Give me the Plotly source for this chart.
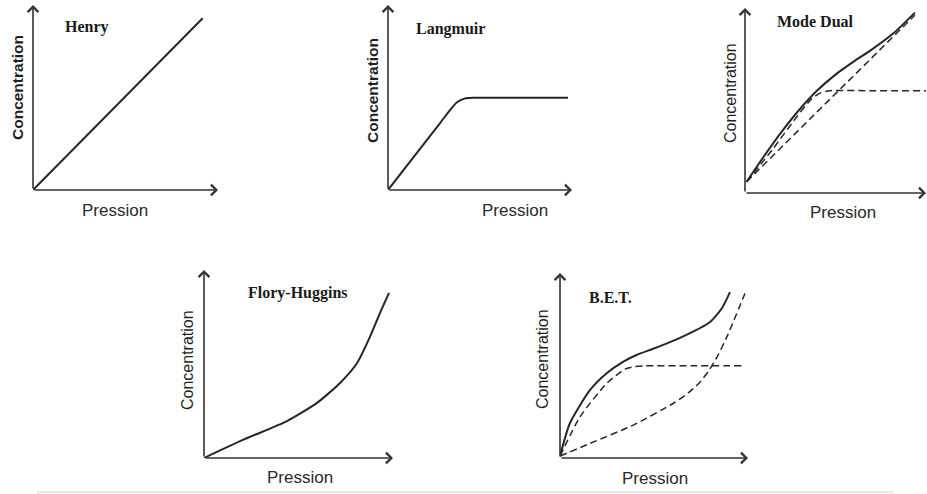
import plotly.graph_objects as go

W, H = 927, 494

# ---------------- data (axis units: 0..100 along each arrow) ----------------
henry_x = [0, 91.7]
henry_y = [0, 92.8]

langmuir_x = [0, 28.3, 33.7, 37.5, 41.5, 46.0, 70.0, 97.8]
langmuir_y = [0, 36.2, 43.2, 47.4, 49.4, 49.8, 49.8, 49.8]

dual_total_x = [0.9, 10.0, 20.0, 30.0, 40.0, 50.0, 60.0, 70.0, 82.0, 93.9]
dual_total_y = [6.1, 19.2, 32.8, 45.0, 55.5, 64.0, 71.0, 77.5, 86.3, 97.5]
dual_henry_x = [0.9, 93.9]
dual_henry_y = [6.1, 96.2]
dual_lang_x = [0.9, 15.7, 28.6, 36.5, 41.5, 47.0, 70.0, 100]
dual_lang_y = [6.1, 24.2, 41.2, 50.6, 54.0, 55.3, 55.3, 55.3]

flory_x = [0, 20.6, 43.9, 59.8, 72.0, 81.0, 87.8, 93.1, 97.9]
flory_y = [0, 9.6, 19.6, 29.3, 39.9, 50.5, 64.4, 77.1, 87.8]

bet_total_x = [0, 5.3, 16.0, 25.0, 33.5, 41.0, 50.0, 63.8, 79.8, 86.2, 90.4]
bet_total_y = [1, 18.9, 36.8, 46.0, 52.0, 55.8, 59.2, 64.9, 73.5, 81.1, 89.7]
bet_lang_x = [0, 10.6, 25.0, 34.5, 40.0, 45.0, 70.0, 96.8]
bet_lang_y = [1, 22.2, 40.5, 48.0, 49.5, 49.8, 49.8, 49.8]
bet_flory_x = [0, 16.0, 39.0, 60.3, 68.0, 74.0, 79.0, 84.0, 89.0, 98.4]
bet_flory_y = [1, 7.9, 17.8, 29.6, 35.0, 40.5, 47.0, 55.5, 66.0, 89.0]

titles = ["Henry", "Langmuir", "Mode Dual", "Flory-Huggins", "B.E.T."]
y_label = "Concentration"
x_label = "Pression"
AX_MAX = 100

# ---------------- layout geometry (pixels) ----------------
# (x origin, x arrow tip, y origin, y arrow tip)
panels = [
    (33, 218, 190, 5),
    (388, 572, 190, 5),
    (745, 926, 193, 8),
    (204, 393, 458, 270),
    (560, 748, 458, 273),
]
title_pos = [(87, 27), (450, 29), (815, 22), (298, 293), (610, 297)]
ylab_pos = [(17, 88), (372, 91), (730, 93), (187, 360), (542, 359)]
xlab_pos = [(115, 210), (515, 210), (843, 212), (300, 477), (655, 478)]
ylab_bold = [True, True, False, False, False]

def px(x):
    return x / W

def py(y):
    return 1 - y / H

INK = "#262626"
fig = go.Figure()

series = [
    [(henry_x, henry_y, "solid")],
    [(langmuir_x, langmuir_y, "solid")],
    [(dual_total_x, dual_total_y, "solid"),
     (dual_henry_x, dual_henry_y, "dash"),
     (dual_lang_x, dual_lang_y, "dash")],
    [(flory_x, flory_y, "solid")],
    [(bet_total_x, bet_total_y, "solid"),
     (bet_lang_x, bet_lang_y, "dash"),
     (bet_flory_x, bet_flory_y, "dash")],
]

annotations = []
layout_axes = {}
for i, (x0, x1, y0, y1) in enumerate(panels):
    n = i + 1
    xa = "xaxis" if n == 1 else f"xaxis{n}"
    ya = "yaxis" if n == 1 else f"yaxis{n}"
    xr = "x" if n == 1 else f"x{n}"
    yr = "y" if n == 1 else f"y{n}"
    layout_axes[xa] = dict(domain=[px(x0), px(x1)], range=[0, AX_MAX], visible=False,
                           anchor=yr, fixedrange=True)
    layout_axes[ya] = dict(domain=[py(y0), py(y1)], range=[0, AX_MAX], visible=False,
                           anchor=xr, fixedrange=True)
    for sx, sy, kind in series[i]:
        fig.add_trace(go.Scatter(
            x=sx, y=sy, mode="lines", xaxis=xr, yaxis=yr, showlegend=False,
            hoverinfo="skip",
            line=dict(color=INK, width=2.0 if kind == "solid" else 1.5,
                      dash="solid" if kind == "solid" else "7px,4px",
                      shape="spline", smoothing=0.6),
        ))
    # axis arrows
    for hx, hy in [(AX_MAX, 0), (0, AX_MAX)]:
        annotations.append(dict(
            x=hx, y=hy, ax=0, ay=0, xref=xr, yref=yr, axref=xr, ayref=yr,
            showarrow=True, arrowhead=4, arrowsize=1.3, arrowwidth=1.6,
            arrowcolor="#333333", text=""))
    # texts
    tx, ty = title_pos[i]
    annotations.append(dict(
        x=px(tx), y=py(ty), xref="paper", yref="paper", text=f"<b>{titles[i]}</b>",
        showarrow=False, xanchor="center", yanchor="middle",
        font=dict(family="Liberation Serif", size=16, color="#1a1a1a")))
    lx, ly = ylab_pos[i]
    annotations.append(dict(
        x=px(lx), y=py(ly), xref="paper", yref="paper",
        text=f"<b>{y_label}</b>" if ylab_bold[i] else y_label,
        textangle=-90, showarrow=False, xanchor="center", yanchor="middle",
        font=dict(family="Liberation Sans", size=15.5 if ylab_bold[i] else 16, color="#1f1f1f")))
    bx, by = xlab_pos[i]
    annotations.append(dict(
        x=px(bx), y=py(by), xref="paper", yref="paper", text=x_label,
        showarrow=False, xanchor="center", yanchor="middle",
        font=dict(family="Liberation Sans", size=17, color="#2a2a2a")))

fig.update_layout(
    width=W, height=H,
    margin=dict(l=0, r=0, t=0, b=0),
    paper_bgcolor="white", plot_bgcolor="rgba(0,0,0,0)",
    showlegend=False,
    annotations=annotations,
    shapes=[dict(type="rect", xref="paper", yref="paper",
                 x0=px(38), x1=px(893), y0=py(492), y1=-0.05,
                 line=dict(color="#d0d0d0", width=1), fillcolor="rgba(0,0,0,0)")],
    **layout_axes,
)

fig.write_html("out.html", config={"displayModeBar": False},
               post_script="document.body.style.margin='0px';document.body.style.overflow='hidden';")
